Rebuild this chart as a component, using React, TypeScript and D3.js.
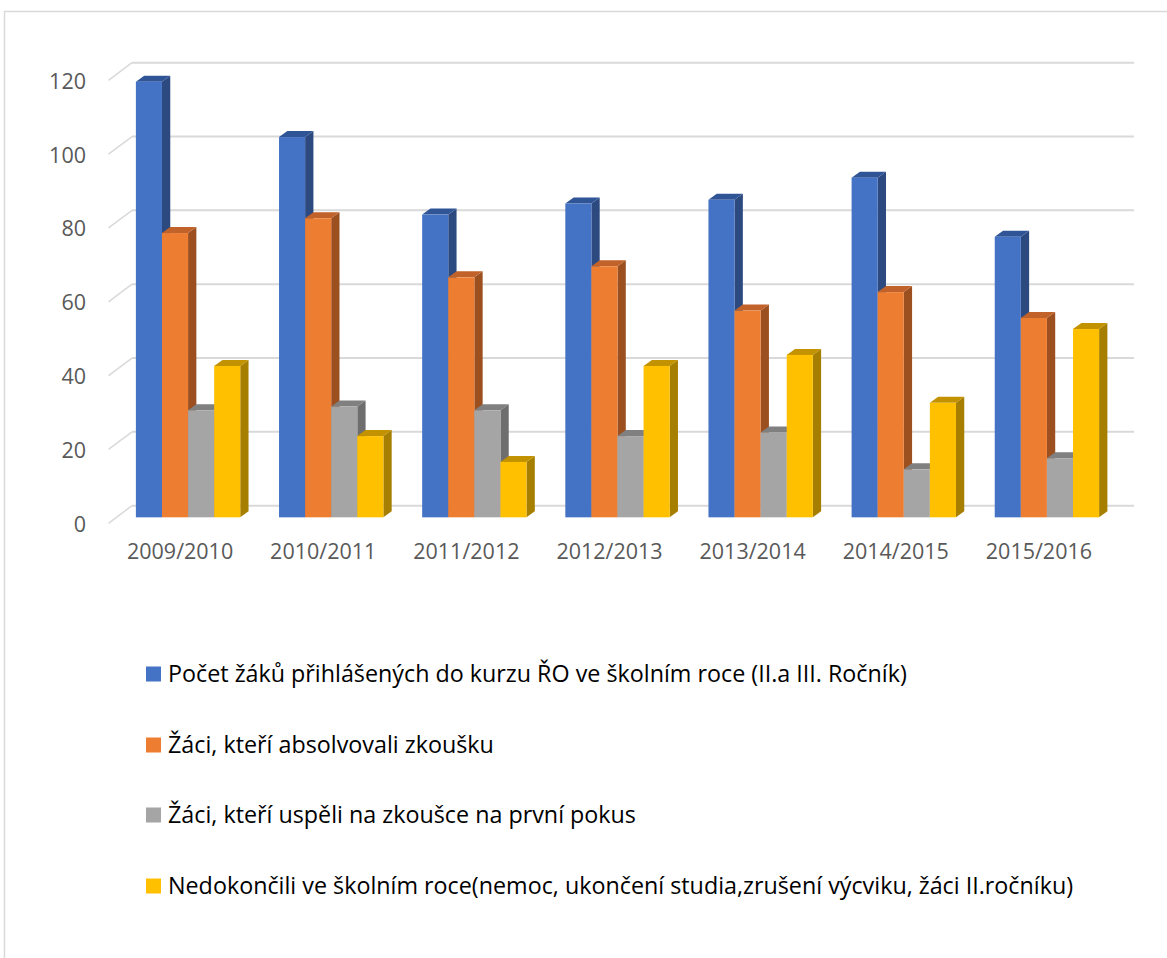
import React from 'react';
import * as d3 from 'd3';

const years = ['2009/2010', '2010/2011', '2011/2012', '2012/2013', '2013/2014', '2014/2015', '2015/2016'];
const seriesNames = [
  'Počet žáků přihlášených do kurzu ŘO ve školním roce (II.a III. Ročník)',
  'Žáci, kteří absolvovali zkoušku',
  'Žáci, kteří uspěli na zkoušce na první pokus',
  'Nedokončili ve školním roce(nemoc, ukončení studia,zrušení výcviku, žáci II.ročníku)',
];
const prihlaseni = [118, 103, 82, 85, 86, 92, 76];
const absolvovali = [77, 81, 65, 68, 56, 61, 54];
const uspeli = [29, 30, 29, 22, 23, 13, 16];
const nedokoncili = [41, 22, 15, 41, 44, 31, 51];
const yTicks = [0, 20, 40, 60, 80, 100, 120];

const front = ['#4472C4', '#ED7D31', '#A5A5A5', '#FFC000'];
const topC = ['#2F5597', '#C0622A', '#808080', '#C29200'];
const sideC = ['#2C4A80', '#9C4F1F', '#6E6E6E', '#A67F00'];

const W = 1167;
const H = 958;
// back wall
const backL = 132;
const backR = 1134;
// depth vector back -> front edge of floor
const depthX = -23.5;
const depthY = 17.6;
const barShift = 0.66; // bar plane position along depth
const barDx = 8.3; // bar's own thickness
const barDy = -6;

const App = () => {
  const series = [prihlaseni, absolvovali, uspeli, nedokoncili];

  const x = d3.scaleBand<string>()
    .domain(years)
    .range([backL, backR])
    .paddingInner(0.271)
    .paddingOuter(0.1355);
  const xSub = d3.scaleBand<number>()
    .domain(d3.range(series.length))
    .range([0, x.bandwidth()]);
  const y = d3.scaleLinear().domain([0, 120]).range([505.7, 62.7]);

  const bx = depthX * barShift;
  const by = depthY * barShift;

  const bars: JSX.Element[] = [];
  years.forEach((yr, i) => {
    series.forEach((vals, s) => {
      const x0 = (x(yr) as number) + (xSub(s) as number) + bx;
      const x1 = x0 + xSub.bandwidth();
      const yTop = y(vals[i]) + by;
      const y0 = y(0) + by;
      bars.push(
        <g key={`${i}-${s}`}>
          <polygon
            points={`${x1},${yTop} ${x1 + barDx},${yTop + barDy} ${x1 + barDx},${y0 + barDy} ${x1},${y0}`}
            fill={sideC[s]}
          />
          <polygon
            points={`${x0},${yTop} ${x0 + barDx},${yTop + barDy} ${x1 + barDx},${yTop + barDy} ${x1},${yTop}`}
            fill={topC[s]}
          />
          <rect x={x0} y={yTop} width={x1 - x0} height={y0 - yTop} fill={front[s]} />
        </g>
      );
    });
  });

  const legendY = [674, 745, 815, 886];

  return (
    <svg width={W} height={H} style={{ position: 'absolute', left: 0, top: 0, background: '#fff' }}
      fontFamily="'Open Sans', sans-serif">
      <rect x={4.5} y={11.5} width={W + 20} height={H + 20} fill="none" stroke="#d9d9d9" strokeWidth={1.5} />

      {/* gridlines on back wall + diagonal ticks */}
      <g>
        {yTicks.map(t => (
          <g key={t}>
            <line x1={backL} x2={backR} y1={y(t)} y2={y(t)} stroke="#d9d9d9" strokeWidth={2} />
            <line x1={backL + depthX} y1={y(t) + depthY} x2={backL} y2={y(t)} stroke="#d9d9d9" strokeWidth={1.5} />
          </g>
        ))}
      </g>

      <g>
        {yTicks.map(t => (
          <text key={t} x={86} y={y(t) + depthY + 1} dy="0.35em" textAnchor="end" fontSize={21.5} fill="#595959">
            {t}
          </text>
        ))}
      </g>

      <g>{bars}</g>

      <g>
        {years.map(yr => (
          <text key={yr} x={(x(yr) as number) + x.bandwidth() / 2 + depthX} y={551} dy="0.35em"
            textAnchor="middle" fontSize={21.5} fill="#595959">
            {yr}
          </text>
        ))}
      </g>

      <g>
        {seriesNames.map((name, s) => (
          <g key={name}>
            <rect x={146} y={legendY[s] - 7.5} width={15} height={15} fill={front[s]} />
            <text x={168} y={legendY[s]} dy="0.35em" fontSize={23.3} fill="#000">
              {name}
            </text>
          </g>
        ))}
      </g>
    </svg>
  );
};

export default App;
